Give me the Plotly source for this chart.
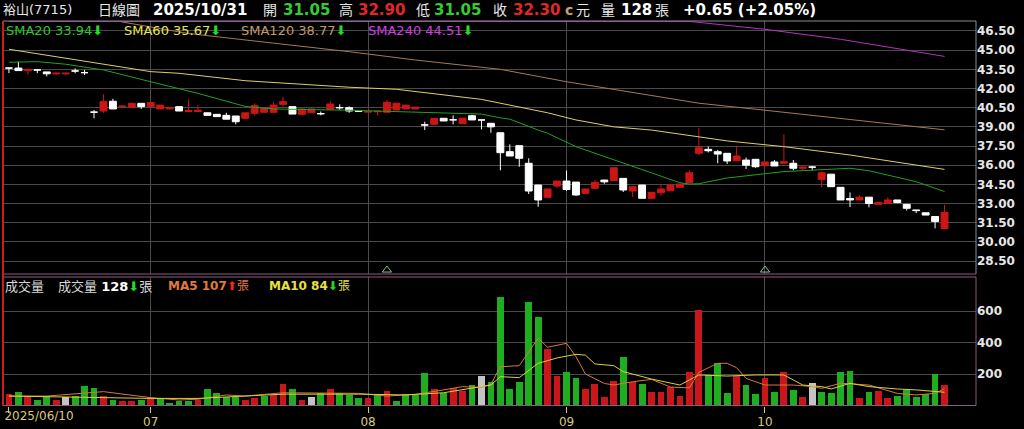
import plotly.graph_objects as go

# ---------------- data ----------------
month_idx = [15, 38, 59, 80]
month_text = ['07', '08', '09', '10']
first_idx = [0]
first_text = ['2025/06/10']

opens = [43.6, 43.6, 43.4, 43.45, 43.3, 43.15, 43.15, 43.37, 43.24, 40.15,
         40.24, 41.0, 40.58, 40.53, 40.84, 40.58, 40.4, 40.4, 40.58, 40.2,
         40.2, 40.1, 39.98, 39.9, 39.85, 39.67, 40.06, 40.14, 40.14, 40.76,
         40.58, 39.98, 40.1, 40.03, 40.37, 40.5, 40.5, 40.28, 40.15, 40.18,
         40.14, 40.32, 40.4, 40.4, 39.15, 39.2, 39.67, 39.55, 39.25, 39.87,
         39.54, 39.28, 38.54, 37.06, 37.53, 36.15, 34.45, 33.49, 34.37, 34.76,
         34.68, 33.8, 34.19, 34.84, 34.8, 34.97, 33.98, 34.45, 33.41, 33.85,
         34.0, 34.27, 34.63, 36.93, 37.24, 37.06, 36.93, 36.35, 36.4, 36.46,
         35.99, 36.25, 36.15, 36.15, 35.76, 35.85, 34.89, 35.3, 34.27, 33.4,
         33.28, 33.5, 32.94, 33.0, 33.28, 32.94, 32.5, 32.28, 31.99, 31.05]
highs = [43.6, 44.1, 43.5, 43.45, 43.3, 43.2, 43.2, 43.58, 43.45, 40.32,
         41.55, 41.2, 40.62, 40.84, 40.84, 40.9, 40.7, 40.5, 40.58, 41.15,
         40.7, 40.1, 39.98, 40.1, 39.85, 40.1, 40.84, 40.5, 40.95, 41.36,
         40.6, 40.4, 40.42, 40.2, 41.0, 40.76, 40.6, 40.28, 40.2, 40.22,
         41.1, 40.84, 40.7, 40.55, 39.4, 39.65, 39.67, 39.9, 39.68, 39.95,
         39.54, 39.28, 38.54, 37.63, 37.53, 36.54, 34.45, 34.14, 34.76, 35.57,
         34.68, 34.14, 34.84, 34.84, 35.8, 34.97, 34.32, 34.45, 33.88, 34.45,
         34.45, 34.53, 35.6, 38.9, 37.45, 37.2, 36.93, 37.53, 36.6, 36.46,
         36.25, 36.4, 38.42, 36.4, 35.88, 35.95, 35.5, 35.3, 34.27, 33.87,
         33.65, 33.5, 33.1, 33.5, 33.28, 32.94, 32.5, 32.28, 31.99, 32.9]
lows = [43.2, 43.4, 43.1, 43.2, 42.95, 43.05, 43.05, 43.19, 43.06, 39.67,
        40.1, 40.4, 40.58, 40.53, 40.4, 40.58, 40.4, 40.4, 40.24, 40.2,
        40.15, 39.9, 39.8, 39.6, 39.2, 39.6, 39.87, 40.1, 40.1, 40.58,
        40.0, 39.98, 40.1, 39.9, 40.37, 40.32, 40.1, 40.22, 40.15, 39.9,
        40.05, 40.32, 40.4, 40.4, 38.75, 39.2, 39.46, 39.2, 39.25, 39.54,
        38.8, 38.54, 35.6, 36.72, 35.88, 33.75, 32.75, 33.49, 34.2, 33.98,
        33.6, 33.8, 34.19, 34.55, 34.8, 33.9, 33.5, 33.41, 33.41, 33.6,
        34.0, 34.27, 34.63, 36.8, 37.0, 36.15, 36.1, 36.3, 35.7, 35.8,
        35.85, 35.94, 36.1, 35.6, 35.6, 35.6, 34.27, 34.32, 33.28, 32.73,
        33.28, 32.7, 32.94, 33.0, 33.07, 32.45, 32.25, 32.1, 31.06, 31.05]
closes = [43.6, 43.4, 43.5, 43.45, 43.15, 43.2, 43.2, 43.37, 43.24, 40.15,
          40.97, 40.4, 40.62, 40.84, 40.58, 40.9, 40.7, 40.5, 40.24, 40.28,
          40.3, 39.9, 39.8, 39.6, 39.4, 40.1, 40.66, 40.45, 40.7, 40.97,
          40.0, 40.4, 40.4, 40.03, 40.79, 40.5, 40.24, 40.22, 40.2, 40.22,
          40.92, 40.84, 40.7, 40.55, 39.15, 39.65, 39.46, 39.55, 39.68, 39.54,
          39.54, 39.0, 36.98, 36.72, 36.54, 33.98, 33.28, 34.14, 34.76, 34.1,
          33.67, 34.14, 34.66, 34.7, 35.8, 34.06, 34.32, 33.41, 33.88, 34.14,
          34.45, 34.53, 35.41, 37.37, 37.13, 36.87, 36.33, 36.72, 36.0, 35.88,
          36.25, 35.94, 36.27, 35.76, 35.85, 35.85, 35.41, 34.32, 33.28, 33.28,
          33.5, 33.0, 33.1, 33.28, 33.07, 32.63, 32.45, 32.1, 31.6, 32.3]
# body colour of each candle: r = red (up), w = white (down / flat)
candle_color = list('wwrwwrrwww' 'rwrrwrrrwr' 'rwwwwrrrrr' 'wrrwrwwwrr'
                    'rrrrwrwwrw' 'wwwwwwwrrw' 'wrrwrwrwrr' 'rrrrwwwrww'
                    'rwrwrwrwww' 'rwrrwwwwwr')

volumes = [73, 84, 62, 35, 62, 35, 56, 62, 126, 109,
           62, 35, 29, 29, 33, 45, 40, 16, 27, 31,
           35, 105, 77, 56, 52, 35, 45, 62, 67, 135,
           103, 35, 56, 81, 103, 81, 67, 45, 45, 64,
           92, 29, 71, 67, 204, 105, 81, 113, 94, 130,
           187, 151, 687, 105, 151, 655, 562, 359, 187, 211,
           177, 103, 135, 56, 156, 306, 151, 137, 88, 88,
           120, 62, 211, 606, 194, 268, 81, 187, 130, 71,
           173, 84, 211, 99, 52, 141, 84, 77, 211, 219,
           45, 84, 92, 49, 60, 99, 56, 71, 200, 128]
# volume bar colour: R up, G down, W unchanged
vol_color = list('RGRGGRWGGG' 'RGRRGRGGGG' 'RGGGGRRGRR' 'GRWGRGGGRG'
                 'RGGGGRGRRG' 'WGGGGGGRRG' 'GRRRRGRGRR' 'RRRRGGGRGG'
                 'RGRGRWGGGG' 'RGRRGGGGGR')

sma20_idx = [0, 3, 6, 8, 10, 15, 20, 25, 28, 36, 40, 46, 50, 52, 53, 56, 57, 60,
             64, 68, 71, 72, 73, 76, 82, 85, 89, 91, 96, 99]
sma20_val = [44.05, 44.1, 43.9, 43.7, 43.45, 42.53, 41.62, 40.6, 40.4, 40.3, 40.2,
             40.06, 40.0, 39.7, 39.6, 38.75, 38.5, 37.45, 36.4, 35.4, 34.63, 34.53,
             34.55, 35.0, 35.5, 35.62, 35.76, 35.57, 34.71, 33.94]
sma60_idx = [0, 6, 15, 18, 25, 36, 41, 50, 57, 60, 64, 68, 73, 76, 82, 89, 99]
sma60_val = [45.07, 44.36, 43.32, 43.19, 42.61, 42.1, 41.94, 41.15, 40.1, 39.54,
             39.0, 38.75, 38.2, 37.9, 37.45, 36.8, 35.67]
sma120_idx = [11, 12, 19, 25, 36, 43, 52, 59, 66, 73, 80, 89, 99]
sma120_val = [47.5, 47.2, 46.3, 45.8, 44.88, 44.23, 43.5, 42.53, 41.7, 40.85,
              40.3, 39.6, 38.77]
sma240_idx = [0, 72, 80, 88, 99]
sma240_val = [47.25, 47.25, 46.63, 45.85, 44.51]

ma5_idx = [0, 4, 10, 13, 15, 18, 20, 23, 25, 29, 31, 34, 37, 40, 42, 43, 46, 48,
           50, 51, 52, 54, 56, 57, 59, 60, 61, 63, 64, 66, 68, 70, 72, 73, 75, 76,
           77, 78, 80, 83, 85, 86, 88, 91, 94, 96, 98, 99]
ma5_val = [60, 60, 88, 67, 50, 35, 40, 67, 60, 81, 81, 77, 77, 60, 67, 71, 99, 120,
           115, 135, 246, 253, 427, 370, 395, 310, 200, 140, 130, 151, 166, 117,
           112, 210, 268, 268, 240, 172, 130, 130, 120, 109, 141, 130, 77, 67, 77, 107]
ma10_idx = [0, 15, 20, 29, 37, 42, 46, 49, 51, 52, 54, 56, 58, 60, 61, 62, 64, 65,
            68, 71, 73, 76, 79, 82, 84, 86, 87, 89, 91, 94, 96, 99]
ma10_val = [60, 45, 45, 72, 72, 67, 81, 109, 130, 183, 177, 268, 302, 325, 320, 264,
            253, 215, 168, 130, 194, 187, 194, 194, 130, 120, 105, 141, 120, 105, 99, 84]

event_idx = [40, 80]
event_price = [27.8, 27.8]

price_ticks = [28.5, 30.0, 31.5, 33.0, 34.5, 36.0, 37.5, 39.0, 40.5, 42.0, 43.5, 45.0, 46.5]
vol_ticks = [200, 400, 600]

# ---------------- styling ----------------
W, H = 1024, 429
BG = '#000000'
GRID = '#4a4a4a'
RED = '#cc1616'
WHITE = '#ffffff'
VOL_RED = '#c8161a'
VOL_GREEN = '#1fae1f'
VOL_GREY = '#c4c4c4'
AXIS_YEL = '#d8c880'
FONT = 'DejaVu Sans, Noto Sans CJK TC, sans-serif'

XR = [-0.63, 102.33]
xd = [3 / W, 976 / W]
pdom = [1 - 274 / H, 1 - 21 / H]
vdom = [1 - 405.5 / H, 1 - 277 / H]

fig = go.Figure()

for col, fillc in (('r', RED), ('w', WHITE)):
    idx = [i for i in range(len(opens)) if candle_color[i] == col]
    style = dict(fillcolor=fillc, line=dict(color=fillc, width=1))
    fig.add_trace(go.Candlestick(
        x=idx, open=[opens[i] for i in idx], high=[highs[i] for i in idx],
        low=[lows[i] for i in idx], close=[closes[i] for i in idx],
        increasing=style, decreasing=style, whiskerwidth=0,
        xaxis='x', yaxis='y', hoverinfo='skip', showlegend=False))

for ix, vals, colr in ((sma20_idx, sma20_val, '#22a022'),
                       (sma60_idx, sma60_val, '#d8d070'),
                       (sma120_idx, sma120_val, '#a07a5a'),
                       (sma240_idx, sma240_val, '#b432c0')):
    fig.add_trace(go.Scatter(x=ix, y=vals, mode='lines', xaxis='x', yaxis='y',
                             line=dict(color=colr, width=1), hoverinfo='skip'))

fig.add_trace(go.Scatter(x=event_idx, y=event_price, mode='markers', xaxis='x', yaxis='y',
                         marker=dict(symbol='triangle-up-open', size=8,
                                     color='#9ab89a', line=dict(width=1, color='#9ab89a')),
                         hoverinfo='skip'))

cmap = {'R': VOL_RED, 'G': VOL_GREEN, 'W': VOL_GREY}
fig.add_trace(go.Bar(x=list(range(len(volumes))), y=volumes, width=0.72,
                     marker=dict(color=[cmap[c] for c in vol_color], line=dict(width=0)),
                     xaxis='x2', yaxis='y2', hoverinfo='skip'))
fig.add_trace(go.Scatter(x=ma5_idx, y=ma5_val, mode='lines', xaxis='x2', yaxis='y2',
                         line=dict(color='#d87838', width=1), hoverinfo='skip'))
fig.add_trace(go.Scatter(x=ma10_idx, y=ma10_val, mode='lines', xaxis='x2', yaxis='y2',
                         line=dict(color='#d8d040', width=1), hoverinfo='skip'))
# invisible trace so that the overlaying axis x3 is drawn
fig.add_trace(go.Scatter(x=first_idx, y=[0], mode='markers', xaxis='x3', yaxis='y2',
                         marker=dict(size=1, opacity=0), hoverinfo='skip'))

tick_font = dict(family=FONT, size=12, color='#e6e6e6', weight='bold')
xlab_font = dict(family=FONT, size=12, color=AXIS_YEL)

layout = dict(
    width=W, height=H, autosize=False,
    margin=dict(l=0, r=0, t=0, b=0, autoexpand=False),
    paper_bgcolor=BG, plot_bgcolor=BG,
    showlegend=False, hovermode=False,
    boxgap=0.27, boxgroupgap=0,
    bargap=0,
    xaxis=dict(domain=xd, range=XR, anchor='y', tickvals=month_idx, showticklabels=False,
               ticks='', showgrid=True, gridcolor=GRID, gridwidth=1, zeroline=False,
               rangeslider=dict(visible=False), fixedrange=True, automargin=False),
    yaxis=dict(domain=pdom, range=[27.49, 47.28], anchor='x', side='right',
               tickvals=price_ticks, ticktext=['%.2f' % v for v in price_ticks],
               tickfont=tick_font, showgrid=True, gridcolor=GRID, zeroline=False,
               ticks='', fixedrange=True, automargin=False),
    xaxis2=dict(domain=xd, range=XR, anchor='y2', tickvals=month_idx, ticktext=month_text,
                ticks='outside', ticklen=6, tickcolor=AXIS_YEL, tickwidth=1,
                tickfont=xlab_font, ticklabelstandoff=-1,
                showgrid=True, gridcolor=GRID, zeroline=False, fixedrange=True,
                automargin=False),
    xaxis3=dict(overlaying='x2', anchor='y2', range=XR, tickvals=first_idx, ticktext=first_text,
                ticks='outside', ticklen=6, tickcolor=AXIS_YEL, tickwidth=1,
                ticklabelposition='outside right', ticklabelshift=-5, ticklabelstandoff=-1,
                tickfont=xlab_font,
                showgrid=False, zeroline=False, fixedrange=True, automargin=False),
    yaxis2=dict(domain=vdom, range=[0, 816], anchor='x2', side='right', tickvals=vol_ticks,
                tickfont=tick_font, showgrid=True, gridcolor=GRID, zeroline=False,
                ticks='', fixedrange=True, automargin=False),
)
fig.update_layout(**layout)

# panel borders
shapes = [
    dict(type='line', xref='paper', yref='paper', x0=xd[0], x1=xd[1], y0=pdom[1], y1=pdom[1],
         line=dict(color='#8c8c8c', width=1)),
    dict(type='line', xref='paper', yref='paper', x0=xd[1], x1=xd[1], y0=pdom[0], y1=pdom[1],
         line=dict(color='#8c8c8c', width=1)),
    dict(type='line', xref='paper', yref='paper', x0=xd[0], x1=xd[1], y0=pdom[0], y1=pdom[0],
         line=dict(color='#8c5c80', width=1)),
    dict(type='rect', xref='paper', yref='paper', x0=xd[0], x1=xd[1], y0=vdom[0], y1=vdom[1],
         line=dict(color='#8c5c80', width=1)),
    dict(type='line', xref='paper', yref='paper', x0=xd[0], x1=xd[0], y0=vdom[0], y1=pdom[1],
         line=dict(color='#c81e1e', width=2)),
]
fig.update_layout(shapes=shapes)

GREEN_T = '#33cc33'
RED_T = '#e02828'
LT = '#e8e8e8'
UP = "<span style='color:#ff2020'>⬆</span>"
DN = "<span style='color:#22dd22'>⬇</span>"

ann = []


def txt(xpx, ypx, text, color, size, bold=False):
    ann.append(dict(x=xpx / W, y=1 - ypx / H, xref='paper', yref='paper', xanchor='left',
                    yanchor='middle', showarrow=False, text=text,
                    font=dict(family=FONT, size=size, color=color,
                              weight='bold' if bold else 'normal')))


# header row
txt(1, 10, '裕山(7715)', LT, 13)
txt(96, 10, '日線圖', LT, 14)
txt(151, 10, '2025/10/31', '#ffffff', 15, True)
txt(261, 10, '開', LT, 14)
txt(281, 10, '31.05', GREEN_T, 15, True)
txt(337, 10, '高', LT, 14)
txt(356, 10, '32.90', RED_T, 15, True)
txt(414, 10, '低', LT, 14)
txt(432, 10, '31.05', GREEN_T, 15, True)
txt(491, 10, '收', LT, 14)
txt(511, 10, '32.30', RED_T, 15, True)
txt(563, 10, 'c', '#c8a070', 14, True)
txt(574, 10, '元', LT, 14)
txt(599, 10, '量', LT, 14)
txt(619, 10, '128', '#ffffff', 15, True)
txt(653, 10, '張', LT, 14)
txt(681, 10, '+0.65 (+2.05%)', '#ffffff', 15, True)

# moving-average legend of the price panel
txt(4, 31, 'SMA20 33.94' + DN, '#2ec82e', 13)
txt(122, 31, 'SMA60 35.67' + DN, '#e6e650', 13)
txt(239, 31, 'SMA120 38.77' + DN, '#c09a6a', 13)
txt(366, 31, 'SMA240 44.51' + DN, '#d040e0', 13)

# volume legend
txt(3, 286, '成交量', '#d8d8d8', 13)
txt(56, 286, "成交量 <span style='color:#ffffff'><b>128</b></span>" + DN + '張', '#d8d8d8', 13)
txt(166, 286, '<b>MA5 107</b>' + UP + '張', '#e07a40', 12)
txt(267, 286, '<b>MA10 84</b>' + DN + '張', '#e8e040', 12)

fig.update_layout(annotations=ann)

fig.write_html('out.html', config={'displayModeBar': False},
               post_script="document.body.style.margin='0';document.body.style.background='#000';")
